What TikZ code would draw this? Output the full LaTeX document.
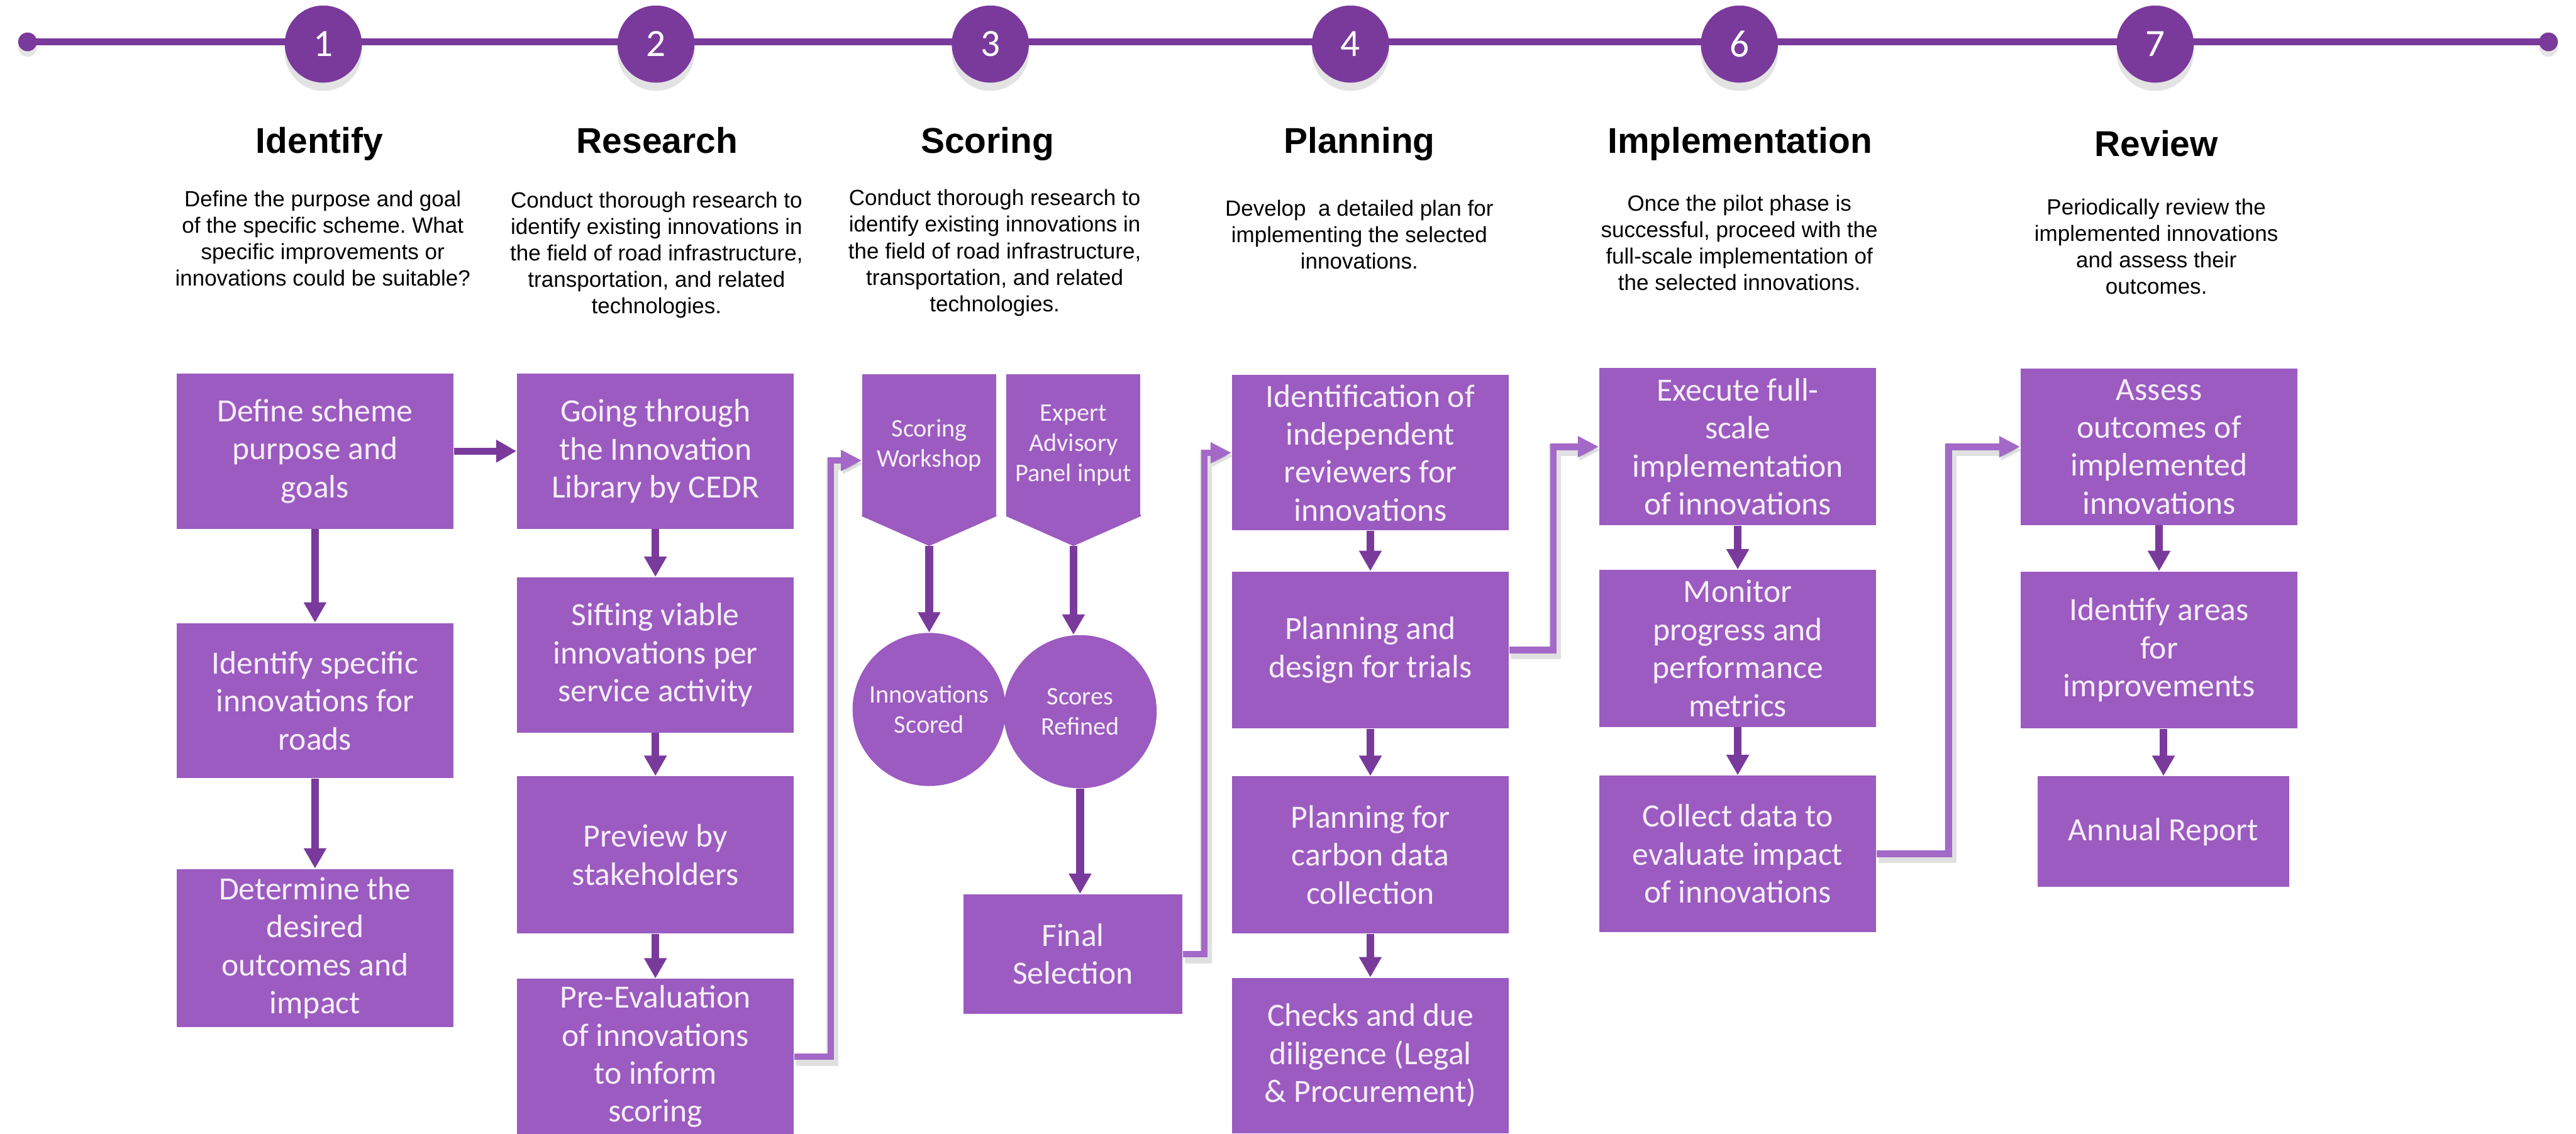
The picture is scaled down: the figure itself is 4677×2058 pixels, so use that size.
\documentclass[tikz,border=0pt]{standalone}
\usepackage{fontspec}
\setmainfont{Carlito}
\newfontfamily\arialfont{Liberation Sans}
\usetikzlibrary{arrows.meta,shadows,calc}
\definecolor{boxpurple}{HTML}{9B5BC0}
\definecolor{darkpurple}{HTML}{7A3A9C}
\definecolor{linkpurple}{HTML}{A368C8}
\definecolor{boxtext}{HTML}{F6EEFA}
\newcommand\boxfont{\fontsize{5.9mm}{6.9mm}\selectfont}
\newcommand\smallboxfont{\fontsize{4.6mm}{5.5mm}\selectfont}
\newcommand\titlefont{\arialfont\bfseries\fontsize{6.5mm}{7.8mm}\selectfont}
\newcommand\descfont{\arialfont\frenchspacing\fontsize{4mm}{4.8mm}\selectfont}
\begin{document}
\begin{tikzpicture}[x=0.1mm,y=-0.1mm,
stepbox/.style={fill=boxpurple,text=boxtext,font=\boxfont,align=center,inner sep=0pt,minimum width=50.3mm,minimum height=28.2mm},
smallbox/.style={fill=boxpurple,text=boxtext,font=\smallboxfont,align=center,inner sep=0pt},
flow/.style={draw=darkpurple,line width=1.4mm,-{Triangle[length=3.7mm,width=3.9mm]}},
link/.style={draw=linkpurple,line width=1.2mm,-{Triangle[length=3.8mm,width=3.6mm]},
  preaction={draw=black,opacity=.12,line width=2.2mm,transform canvas={xshift=.3mm,yshift=-.6mm}}},
num/.style={circle,fill=darkpurple,text=white,minimum size=14mm,inner sep=0pt,
  font=\fontsize{7mm}{8mm}\selectfont,drop shadow={shadow xshift=0mm,shadow yshift=-1.5mm,opacity=.22}},
dot/.style={circle,fill=darkpurple,minimum size=3.4mm,inner sep=0pt,
  drop shadow={shadow xshift=0mm,shadow yshift=-1mm,opacity=.2}},
phase/.style={font=\titlefont,anchor=base},
desc/.style={font=\descfont,align=center,anchor=north,inner sep=0pt}]
\useasboundingbox[fill=white](0,0)rectangle(4677,2058);
% timeline
\node[dot](tl)at(50,76){};
\node[dot](tr)at(4627,76){};
\draw[darkpurple,line width=1.2mm](tl.center)--(tr.center);
\foreach \n/\x in {1/587,2/1191,3/1798,4/2452,6/3158,7/3913}
  \node[num](c\n)at(\x,80){\n};
% phase titles and descriptions
\node[phase](t1)at(580,278){Identify};
\node[phase](t2)at(1193,278){Research};
\node[phase](t3)at(1793,278){Scoring};
\node[phase](t4)at(2468,278){Planning};
\node[phase](t6)at(3159,278){Implementation};
\node[phase](t7)at(3915,284){Review};
\node[desc](s1)at(586,341){\strut Define the purpose and goal\\of the specific scheme. What\\specific improvements or\\innovations could be suitable?};
\node[desc](s2)at(1192,343){\strut Conduct thorough research to\\identify existing innovations in\\the field of road infrastructure,\\transportation, and related\\technologies.};
\node[desc](s3)at(1806,339){\strut Conduct thorough research to\\identify existing innovations in\\the field of road infrastructure,\\transportation, and related\\technologies.};
\node[desc](s4)at(2468,358){\strut Develop\ \ a detailed plan for\\implementing the selected\\innovations.};
\node[desc](s6)at(3158,349){\strut Once the pilot phase is\\successful, proceed with the\\full-scale implementation of\\the selected innovations.};
\node[desc](s7)at(3915,356){\strut Periodically review the\\implemented innovations\\and assess their\\outcomes.};
% identify
\node[stepbox](d1)at(572,819){Define scheme\\purpose and\\goals};
\node[stepbox](d2)at(572,1272){Identify specific\\innovations for\\roads};
\node[stepbox,minimum height=28.7mm](d3)at(572,1721){Determine the\\desired\\outcomes and\\impact};
\draw[flow](d1)--(d2);
\draw[flow](d2)--(d3);
% research
\node[stepbox](r1)at(1190,819){Going through\\the Innovation\\Library by CEDR};
\node[stepbox](r2)at(1190,1189){Sifting viable\\innovations per\\service activity};
\node[stepbox,minimum height=28.5mm](r3)at(1190,1552){Preview by\\stakeholders};
\node[stepbox](r4)at(1190,1918){Pre-Evaluation\\of innovations\\to inform\\scoring};
\draw[flow,line width=1.2mm](d1)--(r1);
\draw[flow](r1)--(r2);
\draw[flow](r2)--(r3);
\draw[flow](r3)--(r4);
% scoring
\node[smallbox,minimum width=24.3mm,minimum height=25.7mm](ws)at(1687,808){Scoring\\Workshop};
\coordinate(wstip)at($(ws.south)+(0,54)$);
\fill[boxpurple]([yshift=.3mm]ws.south west)--(ws.south west)--(wstip)--(ws.south east)--([yshift=.3mm]ws.south east)--cycle;
\node[smallbox,minimum width=24.3mm,minimum height=25.7mm](ea)at(1949,808){Expert\\Advisory\\Panel input};
\coordinate(eatip)at($(ea.south)+(0,54)$);
\fill[boxpurple]([yshift=.3mm]ea.south west)--(ea.south west)--(eatip)--(ea.south east)--([yshift=.3mm]ea.south east)--cycle;
\node[smallbox,circle,minimum size=27.8mm](isc)at(1687,1288){Innovations\\Scored};
\node[smallbox,circle,minimum size=27.8mm](srf)at(1961,1292){Scores\\Refined};
\node[stepbox,minimum width=39.8mm,minimum height=21.7mm](fin)at(1948,1732){Final\\Selection};
\draw[flow](wstip)--(isc);
\draw[flow](eatip)--(eatip|-srf.north);
\draw[flow](srf.south)--(srf.south|-fin.north);
\draw[link](r4.east)--++(66,0)|-([yshift=-2.8mm]ws.west);
% planning
\node[stepbox](p1)at(2488,822){Identification of\\independent\\reviewers for\\innovations};
\node[stepbox,minimum height=28.5mm](p2)at(2488,1180){Planning and\\design for trials};
\node[stepbox,minimum height=28.5mm](p3)at(2488,1552){Planning for\\carbon data\\collection};
\node[stepbox](p4)at(2488,1916){Checks and due\\diligence (Legal\\\& Procurement)};
\draw[flow](p1)--(p2);
\draw[flow](p2)--(p3);
\draw[flow](p3)--(p4);
\draw[link](fin.east)--++(39,0)|-(p1.west);
% implementation
\node[stepbox,minimum height=28.5mm](m1)at(3155,811){Execute full-\\scale\\implementation\\of innovations};
\node[stepbox,minimum height=28.5mm](m2)at(3155,1177){Monitor\\progress and\\performance\\metrics};
\node[stepbox,minimum height=28.4mm](m3)at(3155,1550){Collect data to\\evaluate impact\\of innovations};
\draw[flow](m1)--(m2);
\draw[flow](m2)--(m3);
\draw[link](p2.east)--++(80,0)|-(m1.west);
% review
\node[stepbox,minimum height=28.4mm](v1)at(3920,811){Assess\\outcomes of\\implemented\\innovations};
\node[stepbox,minimum height=28.5mm](v2)at(3920,1180){Identify areas\\for\\improvements};
\node[stepbox,minimum width=45.6mm,minimum height=20.1mm](v3)at(3928,1510){Annual Report};
\draw[flow](v1.south)--(v1.south|-v2.north);
\draw[flow](v2.south-|v3.north)--(v3.north);
\draw[link](m3.east)--++(131,0)|-(v1.west);
\end{tikzpicture}
\end{document}
